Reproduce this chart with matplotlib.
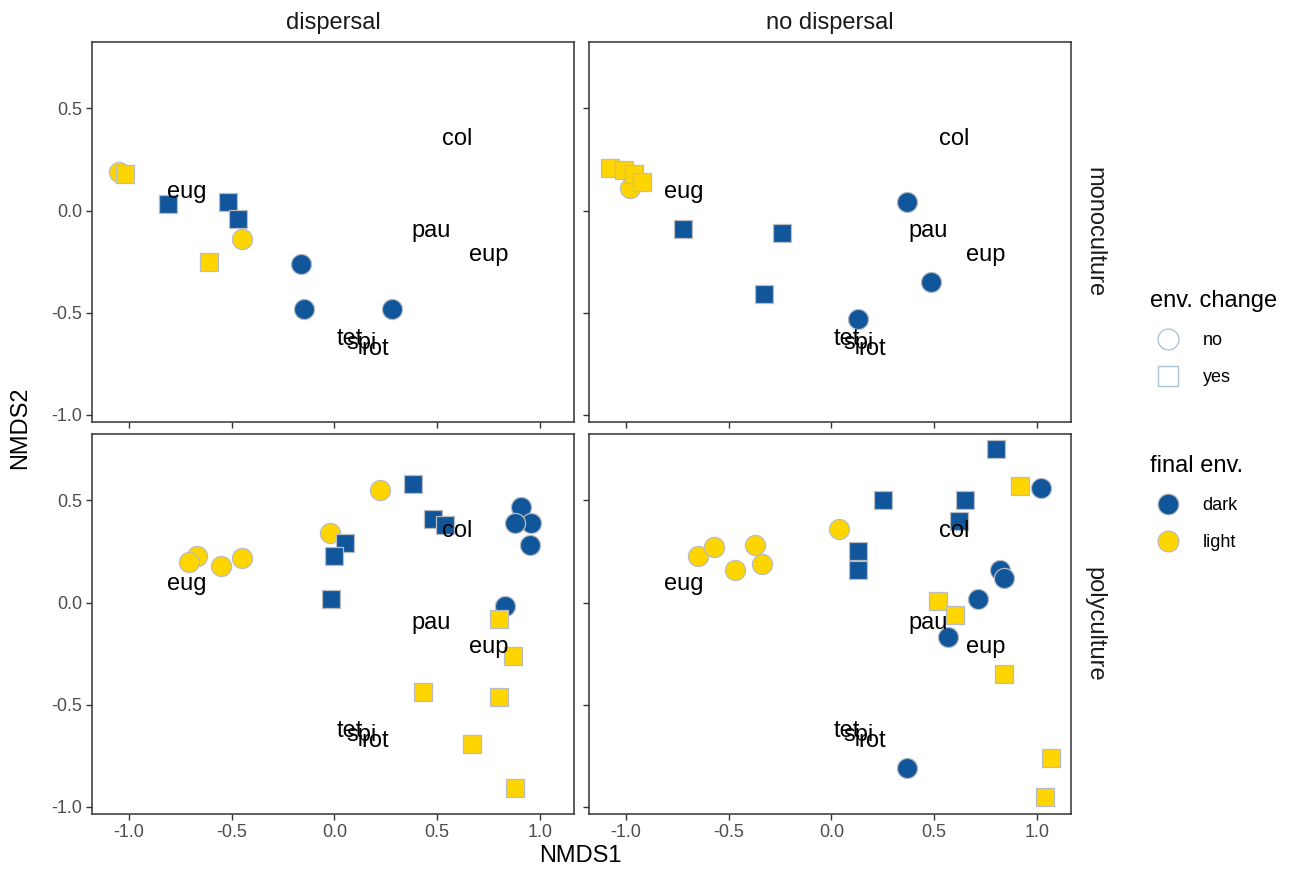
import matplotlib
matplotlib.use("Agg")
import matplotlib.pyplot as plt
from matplotlib.lines import Line2D

plt.rcParams['font.family'] = ['Liberation Sans', 'DejaVu Sans']

DARK = '#11569b'
LIGHT = '#ffd500'
EDGE = '#b9bdc2'
FILLS = {'dark': DARK, 'light': LIGHT}
SHAPES = {'no': 'o', 'yes': 's'}
SIZES = {'no': 210, 'yes': 175}

# species scores (same in every panel)
species = ['col', 'pau', 'eup', 'tet', 'spi', 'rot', 'eug']
species_x = [0.60, 0.47, 0.75, 0.075, 0.13, 0.20, -0.72]
species_y = [0.35, -0.10, -0.22, -0.63, -0.65, -0.68, 0.09]

# dispersal / monoculture
dm_x = [-1.05, -1.02, -0.81, -0.52, -0.47, -0.45, -0.61, -0.16, -0.15, 0.28]
dm_y = [0.19, 0.18, 0.03, 0.04, -0.04, -0.14, -0.25, -0.26, -0.48, -0.48]
dm_change = ['no', 'yes', 'yes', 'yes', 'yes', 'no', 'yes', 'no', 'no', 'no']
dm_final = ['light', 'light', 'dark', 'dark', 'dark', 'light', 'light', 'dark', 'dark', 'dark']

# no dispersal / monoculture
nm_x = [-0.98, -1.08, -1.01, -0.96, -0.92, -0.72, -0.24, -0.33, 0.37, 0.485, 0.13]
nm_y = [0.11, 0.21, 0.20, 0.18, 0.14, -0.09, -0.11, -0.41, 0.04, -0.35, -0.53]
nm_change = ['no', 'yes', 'yes', 'yes', 'yes', 'yes', 'yes', 'yes', 'no', 'no', 'no']
nm_final = ['light', 'light', 'light', 'light', 'light', 'dark', 'dark', 'dark', 'dark', 'dark', 'dark']

# dispersal / polyculture
dp_x = [-0.67, -0.71, -0.55, -0.45, 0.22, -0.02,
        0.05, 0.0, -0.015, 0.385, 0.48, 0.54,
        0.91, 0.96, 0.88, 0.955, 0.83,
        0.80, 0.87, 0.43, 0.80, 0.67, 0.88]
dp_y = [0.23, 0.20, 0.18, 0.22, 0.55, 0.34,
        0.29, 0.23, 0.015, 0.58, 0.41, 0.38,
        0.47, 0.39, 0.39, 0.28, -0.015,
        -0.08, -0.26, -0.44, -0.46, -0.69, -0.91]
dp_change = ['no'] * 6 + ['yes'] * 6 + ['no'] * 5 + ['yes'] * 6
dp_final = ['light'] * 6 + ['dark'] * 6 + ['dark'] * 5 + ['light'] * 6

# no dispersal / polyculture
np_x = [-0.65, -0.57, -0.47, -0.37, -0.34, 0.035,
        0.13, 0.13, 0.25, 0.65, 0.62, 0.80,
        0.92, 1.02,
        0.52, 0.60,
        0.82, 0.84, 0.715, 0.57, 0.37,
        0.84, 1.07, 1.04]
np_y = [0.23, 0.27, 0.16, 0.28, 0.19, 0.36,
        0.25, 0.16, 0.50, 0.50, 0.40, 0.75,
        0.57, 0.56,
        0.01, -0.06,
        0.16, 0.12, 0.015, -0.17, -0.81,
        -0.35, -0.76, -0.95]
np_change = ['no'] * 6 + ['yes'] * 6 + ['yes', 'no'] + ['yes'] * 2 + ['no'] * 5 + ['yes'] * 3
np_final = ['light'] * 6 + ['dark'] * 6 + ['light', 'dark'] + ['light'] * 2 + ['dark'] * 5 + ['light'] * 3

panels = [
    (0, 0, dm_x, dm_y, dm_change, dm_final),
    (0, 1, nm_x, nm_y, nm_change, nm_final),
    (1, 0, dp_x, dp_y, dp_change, dp_final),
    (1, 1, np_x, np_y, np_change, np_final),
]
col_titles = ['dispersal', 'no dispersal']
row_titles = ['monoculture', 'polyculture']

W, H = 1297, 874
fig = plt.figure(figsize=(W / 100, H / 100), dpi=100)

lefts = [92 / W, 589 / W]
bottoms = [1 - 422 / H, 1 - 814 / H]
pw, ph = 482 / W, 380 / H

axes = {}
for r, c, xs, ys, chg, fin in panels:
    ax = fig.add_axes([lefts[c], bottoms[r], pw, ph])
    axes[(r, c)] = ax
    for i in range(len(xs)):
        ax.scatter(xs[i], ys[i], marker=SHAPES[chg[i]], s=SIZES[chg[i]],
                   facecolor=FILLS[fin[i]], edgecolor=EDGE, linewidth=0.9,
                   zorder=2 + i * 0.01)
    for name, sx, sy in zip(species, species_x, species_y):
        ax.text(sx, sy, name, ha='center', va='center', fontsize=17,
                color='black', zorder=5)

    ax.set_xlim(-1.18, 1.167)
    ax.set_ylim(-1.035, 0.825)
    ax.set_xticks([-1.0, -0.5, 0.0, 0.5, 1.0])
    ax.set_yticks([-1.0, -0.5, 0.0, 0.5])
    ax.tick_params(direction='out', length=4, width=1, color='#333333',
                   labelsize=13, labelcolor='#4d4d4d', pad=3)
    if r == 0:
        ax.set_xticklabels([])
    else:
        ax.xaxis.set_major_formatter(matplotlib.ticker.FormatStrFormatter('%.1f'))
    if c == 1:
        ax.set_yticklabels([])
    else:
        ax.yaxis.set_major_formatter(matplotlib.ticker.FormatStrFormatter('%.1f'))
    for sp in ax.spines.values():
        sp.set_color('#333333')
        sp.set_linewidth(1.1)

    if r == 0:
        ax.text(0.5, 1.02, col_titles[c], transform=ax.transAxes, ha='center',
                va='bottom', fontsize=17, color='#1a1a1a')
    if c == 1:
        ax.text(1.025, 0.5, row_titles[r], transform=ax.transAxes, ha='left',
                va='center', rotation=-90, fontsize=17, color='#1a1a1a')

fig.text(20 / W, 1 - 428 / H, 'NMDS2', rotation=90, ha='center', va='center', fontsize=17)
fig.text(580 / W, 1 - 856 / H, 'NMDS1', ha='center', va='center', fontsize=17)

# legends
change_handles = [
    Line2D([], [], ls='', marker='o', markersize=15, markerfacecolor='none',
           markeredgecolor='#aec4d4', markeredgewidth=1.0, label='no'),
    Line2D([], [], ls='', marker='s', markersize=14, markerfacecolor='none',
           markeredgecolor='#aec4d4', markeredgewidth=1.0, label='yes'),
]
final_handles = [
    Line2D([], [], ls='', marker='o', markersize=15, markerfacecolor=DARK,
           markeredgecolor=EDGE, markeredgewidth=0.9, label='dark'),
    Line2D([], [], ls='', marker='o', markersize=15, markerfacecolor=LIGHT,
           markeredgecolor=EDGE, markeredgewidth=0.9, label='light'),
]
leg1 = fig.legend(handles=change_handles, title='env. change', loc='upper left',
                  bbox_to_anchor=(1143 / W, 1 - 283 / H), frameon=False,
                  fontsize=13, title_fontsize=17, labelspacing=1.1,
                  handletextpad=0.9, alignment='left', borderaxespad=0)
fig.legend(handles=final_handles, title='final env.', loc='upper left',
           bbox_to_anchor=(1143 / W, 1 - 448 / H), frameon=False,
           fontsize=13, title_fontsize=17, labelspacing=1.1,
           handletextpad=0.9, alignment='left', borderaxespad=0)

fig.savefig('out.png', dpi=100)
